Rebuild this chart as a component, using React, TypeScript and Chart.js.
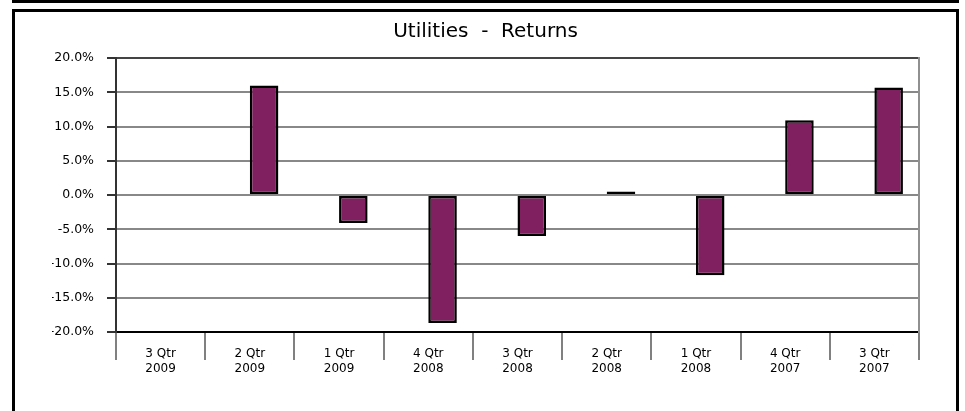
import React, { useEffect, useRef } from 'react';
import { Chart, registerables } from 'chart.js';

Chart.register(...registerables);

const chartTitle = 'Utilities  -  Returns';
const quarterLabels: string[][] = [
  ['3 Qtr', '2009'],
  ['2 Qtr', '2009'],
  ['1 Qtr', '2009'],
  ['4 Qtr', '2008'],
  ['3 Qtr', '2008'],
  ['2 Qtr', '2008'],
  ['1 Qtr', '2008'],
  ['4 Qtr', '2007'],
  ['3 Qtr', '2007'],
];
const benchmarkReturns: (number | null)[] = [null, null, null, null, null, null, null, null, null];
const utilitiesReturns: (number | null)[] = [null, 16.0, -4.1, -18.7, -6.0, 0.5, -11.7, 10.9, 15.7];
const yMin = -20;
const yMax = 20;
const yStep = 5;

const FONT = 'DejaVu Sans';

export default function App() {
  const canvasRef = useRef<HTMLCanvasElement | null>(null);

  useEffect(() => {
    const canvas = canvasRef.current;
    if (!canvas) return;
    const chart = new Chart(canvas, {
      type: 'bar',
      data: {
        labels: quarterLabels,
        datasets: [
          {
            label: 'Benchmark',
            data: benchmarkReturns,
            backgroundColor: '#1f3f8f',
            borderColor: '#000',
            borderWidth: 2,
          },
          {
            label: 'Utilities',
            data: utilitiesReturns,
            backgroundColor: '#802060',
            borderColor: '#000000',
            borderWidth: 2.5,
            borderSkipped: false,
          },
        ],
      },
      options: {
        responsive: false,
        animation: false,
        devicePixelRatio: 1,
        datasets: {
          bar: { categoryPercentage: 0.64, barPercentage: 1 },
        },
        layout: { padding: { left: 52, right: 46, top: 0, bottom: 0 } },
        plugins: {
          legend: { display: false },
          tooltip: { enabled: false },
          title: {
            display: true,
            text: chartTitle,
            color: '#000',
            font: { family: FONT, size: 20, weight: 'normal', lineHeight: 1.2 },
            padding: { top: 20, bottom: 14 },
          },
        },
        scales: {
          x: {
            grid: {
              offset: true,
              drawOnChartArea: false,
              drawTicks: true,
              tickLength: 28,
              color: '#808080',
              lineWidth: 2,
            },
            border: { display: true, color: '#000', width: 2 },
            ticks: {
              color: '#000',
              font: { family: FONT, size: 12, lineHeight: 1.25 },
              padding: -14,
              maxRotation: 0,
              autoSkip: false,
            },
            afterFit: (scale: any) => {
              scale.height = 79;
            },
          },
          y: {
            min: yMin,
            max: yMax,
            grid: {
              color: (ctx: any) => (ctx.tick && ctx.tick.value === yMax ? '#444' : ctx.tick && ctx.tick.value === yMin ? '#000' : '#888'),
              lineWidth: 2,
              tickLength: 9,
              tickColor: '#333',
              tickWidth: 2,
            },
            border: { display: true, color: '#333', width: 2 },
            ticks: {
              stepSize: yStep,
              color: '#000',
              padding: 13,
              font: { family: FONT, size: 12.5 },
              callback: (v: any) => Number(v).toFixed(1) + '%',
            },
            afterFit: (scale: any) => {
              scale.width = 64;
            },
          },
          yRight: {
            position: 'right',
            min: yMin,
            max: yMax,
            grid: { display: false, drawTicks: false },
            ticks: { display: false },
            border: { display: true, color: '#909090', width: 2 },
            afterFit: (scale: any) => {
              scale.width = 0;
            },
          },
        },
      } as any,
    });
    return () => chart.destroy();
  }, []);

  return (
    <div
      style={{
        position: 'absolute',
        left: 0,
        top: 0,
        width: 965,
        height: 411,
        overflow: 'hidden',
        background: '#fff',
      }}
    >
      <div
        style={{
          position: 'absolute',
          left: 12,
          top: -20,
          width: 947,
          height: 23,
          border: '3px solid #000',
          boxSizing: 'border-box',
        }}
      />
      <div
        style={{
          position: 'absolute',
          left: 12,
          top: 9,
          width: 947,
          height: 430,
          border: '3px solid #000',
          boxSizing: 'border-box',
        }}
      />
      <canvas
        ref={canvasRef}
        width={965}
        height={411}
        style={{ position: 'absolute', left: 0, top: 0, width: 965, height: 411 }}
      />
    </div>
  );
}
